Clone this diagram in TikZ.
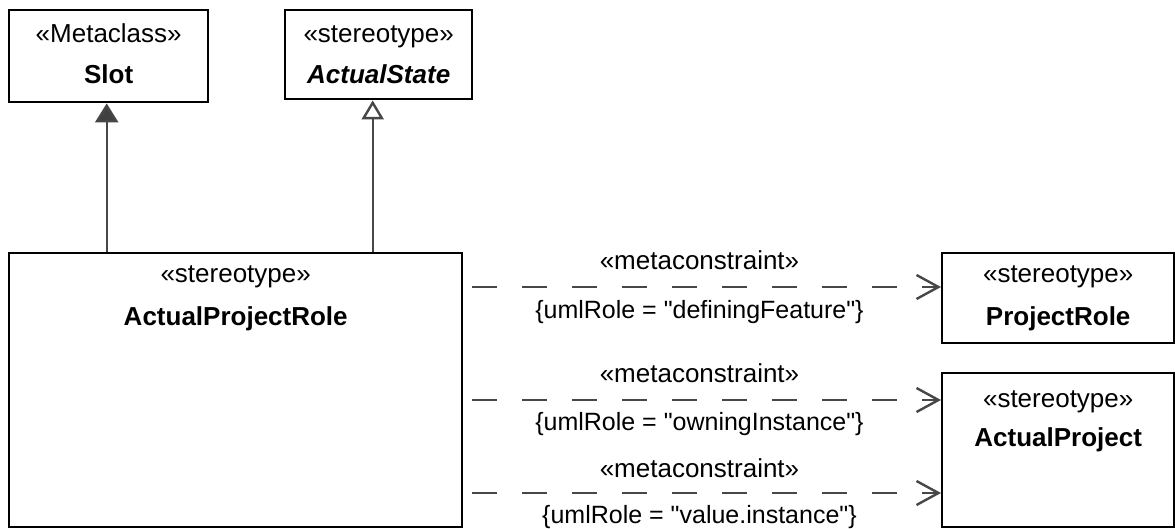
\documentclass[tikz,border=0pt]{standalone}
\usepackage{fontspec}
\setmainfont{Liberation Sans}[Ligatures=TeXOff]
\usetikzlibrary{arrows.meta}

\tikzset{
  umlbox/.style={draw,line width=2.4pt,inner sep=0pt,anchor=north west},
  umltxt/.style={anchor=base,inner sep=0pt,font=\fontsize{26}{30}\selectfont},
  conn/.style={draw=black!72,line width=2.4pt},
  dep/.style={conn,dash pattern=on 25pt off 25pt,
    -{Straight Barb[length=22pt,width=24pt,line width=2.4pt]}},
  deplabel/.style={umltxt,pos=.485},
  cstr/.style={deplabel,font=\fontsize{25}{30}\selectfont}
}

\begin{document}
\begin{tikzpicture}[x=1pt,y=-1pt]
\useasboundingbox (0,0) rectangle (1175,529);

% boxes
\node[umlbox,minimum width=199pt,minimum height=92pt] (slot) at (8,9) {};
\node[umlbox,minimum width=187pt,minimum height=89pt] (state) at (284,9) {};
\node[umlbox,minimum width=453pt,minimum height=274pt] (apr) at (8,252) {};
\node[umlbox,minimum width=232pt,minimum height=90pt] (pr) at (941,252) {};
\node[umlbox,minimum width=232pt,minimum height=154pt] (ap) at (941,372) {};

\node[umltxt] (slot-st) at ([yshift=-34pt]slot.north) {«Metaclass»};
\node[umltxt] (slot-nm) at ([yshift=-75pt]slot.north) {\bfseries Slot};
\node[umltxt] (state-st) at ([yshift=-34pt]state.north) {«stereotype»};
\node[umltxt] (state-nm) at ([yshift=-75pt]state.north) {\bfseries\itshape ActualState};
\node[umltxt] (apr-st) at ([yshift=-31pt]apr.north) {«stereotype»};
\node[umltxt] (apr-nm) at ([yshift=-73pt]apr.north) {\bfseries ActualProjectRole};
\node[umltxt] (pr-st) at ([yshift=-31pt]pr.north) {«stereotype»};
\node[umltxt] (pr-nm) at ([yshift=-74pt]pr.north) {\bfseries ProjectRole};
\node[umltxt] (ap-st) at ([yshift=-35pt]ap.north) {«stereotype»};
\node[umltxt] (ap-nm) at ([yshift=-74pt]ap.north) {\bfseries ActualProject};

% generalizations
\draw[conn,-{Triangle[length=19pt,width=23pt,fill=black!75]}]
  ([xshift=-2pt]slot.south |- apr.north) -- ([xshift=-2pt]slot.south);
\draw[conn,-{Triangle[open,length=19pt,width=22pt,fill=white]}]
  ([xshift=-6pt]state.south |- apr.north) -- ([xshift=-6pt]state.south);

% metaconstraints
\coordinate (m1) at (472,287);
\coordinate (m2) at (472,400);
\coordinate (m3) at (472,493);
\draw[dep] (m1) -- (m1 -| pr.west)
  node[deplabel,yshift=17pt] (m1-st) {«metaconstraint»}
  node[cstr,yshift=-31pt] (m1-c) {\{umlRole = "definingFeature"\}};
\draw[dep] (m2) -- (m2 -| ap.west)
  node[deplabel,yshift=18pt] (m2-st) {«metaconstraint»}
  node[cstr,yshift=-30pt] (m2-c) {\{umlRole = "owningInstance"\}};
\draw[dep] (m3) -- (m3 -| ap.west)
  node[deplabel,yshift=16pt] (m3-st) {«metaconstraint»}
  node[cstr,yshift=-30pt] (m3-c) {\{umlRole = "value.instance"\}};
\end{tikzpicture}
\end{document}
